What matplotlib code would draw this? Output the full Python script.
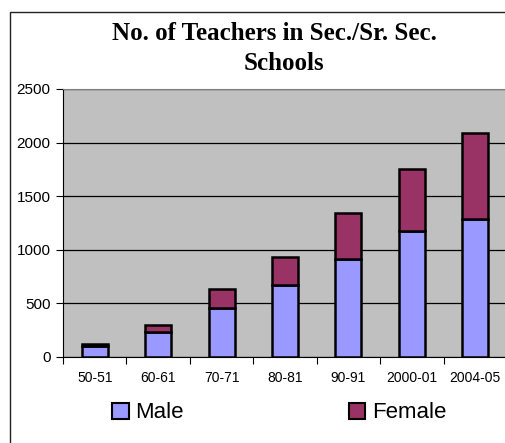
import matplotlib
matplotlib.use("Agg")
import matplotlib.pyplot as plt
from matplotlib.patches import Rectangle, Patch
import numpy as np

# data
years = ["50-51", "60-61", "70-71", "80-81", "90-91", "2000-01", "2004-05"]
male = [100, 235, 460, 672, 914, 1175, 1287]
female = [25, 65, 174, 264, 432, 582, 806]
yticks = [0, 500, 1000, 1500, 2000, 2500]

male_col = "#9999FF"
female_col = "#993366"

fig = plt.figure(figsize=(5.05, 4.43), dpi=100)
fig.patch.set_facecolor("white")

# outer chart frame (runs off the right/bottom of the picture)
fig.add_artist(Rectangle((10 / 505, -0.1), 2, 1 - 12 / 443 + 0.1,
                         transform=fig.transFigure, fill=False,
                         ec="#222222", lw=1))

ax = fig.add_axes([63 / 505, 1 - 357 / 443, 444 / 505, 268 / 443])
ax.set_facecolor("#C0C0C0")

x = np.arange(len(years))
ax.bar(x, male, width=0.41, color=male_col, edgecolor="black", lw=1.8, zorder=3)
ax.bar(x, female, width=0.41, bottom=male, color=female_col,
       edgecolor="black", lw=1.8, zorder=3)

ax.set_xlim(-0.5, len(years) - 0.5)
ax.set_ylim(0, 2500)
ax.set_yticks(yticks)
ax.set_yticklabels([str(v) for v in yticks], fontsize=11, family="Liberation Sans")
ax.yaxis.grid(True, color="black", lw=0.9, zorder=1)
ax.set_axisbelow(True)

# category ticks sit between the bars
ax.set_xticks(np.arange(len(years) + 1) - 0.5)
ax.set_xticklabels([])
ax.set_xticks(x, minor=True)
ax.set_xticklabels(years, minor=True, fontsize=10, family="Liberation Sans")
ax.tick_params(axis="x", which="minor", length=0, pad=10)
ax.tick_params(axis="x", which="major", length=5, color="black")
ax.tick_params(axis="y", length=5, pad=4)

for s in ["top", "right"]:
    ax.spines[s].set_color("#808080")
ax.spines["left"].set_color("black")
ax.spines["bottom"].set_color("black")

fig.text(0.543, 1 - 33 / 443, "No. of Teachers in Sec./Sr. Sec.", ha="center",
         va="center", fontsize=18, fontweight="bold", family="Liberation Serif")
fig.text(0.562, 1 - 63 / 443, "Schools", ha="center", va="center",
         fontsize=18, fontweight="bold", family="Liberation Serif")

handles = [Patch(facecolor=male_col, edgecolor="black", lw=1.5),
           Patch(facecolor=female_col, edgecolor="black", lw=1.5)]
fig.legend(handles, ["Male", "Female"], ncol=2, loc="center",
           bbox_to_anchor=(0.553, 1 - 413 / 443), frameon=False,
           prop={"family": "Liberation Sans", "size": 16},
           handlelength=0.75, handleheight=0.75, handletextpad=0.3,
           columnspacing=7.4)

fig.savefig("out.png", dpi=100)
